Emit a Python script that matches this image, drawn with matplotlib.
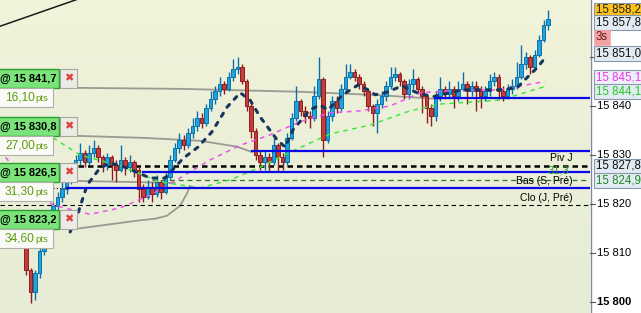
import numpy as np
import matplotlib
matplotlib.use("Agg")
import matplotlib.pyplot as plt
from matplotlib.patches import Rectangle
import matplotlib.transforms as mtransforms

plt.rcParams['font.family'] = ['Liberation Sans', 'DejaVu Sans']

W, H = 641, 313

# --- candle data (prices) ---
first_open = 15812.0
closes = [15806.5, 15802.0, 15806.0, 15810.5, 15814.0, 15817.0, 15819.5, 15821.5, 15823.0, 15825.0,
          15827.0, 15829.0, 15830.5, 15828.5, 15830.5, 15831.5, 15829.5, 15828.0, 15829.5, 15828.0,
          15827.0, 15829.0, 15827.5, 15828.5, 15827.0, 15823.0, 15821.5, 15823.5, 15822.0, 15824.5,
          15822.5, 15825.5, 15829.0, 15831.5, 15833.0, 15832.0, 15834.5, 15836.0, 15837.5, 15836.5,
          15839.5, 15841.5, 15843.0, 15844.5, 15843.5, 15846.0, 15847.5, 15848.0, 15845.0, 15840.0,
          15835.0, 15830.0, 15828.5, 15829.5, 15828.5, 15832.0, 15829.5, 15828.5, 15833.5, 15837.5,
          15841.0, 15839.0, 15838.0, 15837.5, 15842.0, 15845.5, 15833.0, 15838.0, 15841.0, 15839.5,
          15843.5, 15846.0, 15847.0, 15846.0, 15844.5, 15843.0, 15840.0, 15838.5, 15840.5, 15842.0,
          15844.0, 15846.0, 15846.5, 15845.0, 15842.5, 15844.5, 15845.5, 15843.5, 15842.0, 15839.5,
          15838.0, 15842.0, 15843.5, 15842.5, 15843.5, 15842.0, 15843.5, 15844.5, 15843.0, 15844.0,
          15843.0, 15842.0, 15843.0, 15845.0, 15846.0, 15843.0, 15842.0, 15843.5, 15844.0, 15846.0,
          15848.5, 15850.0, 15848.0, 15850.5, 15853.5, 15856.5, 15857.8]
highs = [15812.5, 15807.0, 15806.5, 15811.5, 15815.0, 15818.0, 15820.5, 15822.5, 15824.5, 15826.0,
         15828.0, 15830.0, 15832.5, 15831.0, 15832.0, 15833.0, 15832.0, 15830.0, 15830.5, 15830.0,
         15829.0, 15832.0, 15829.5, 15830.0, 15829.0, 15827.5, 15824.0, 15825.0, 15824.5, 15826.0,
         15825.0, 15826.5, 15830.0, 15832.5, 15834.5, 15834.0, 15835.5, 15837.5, 15839.0, 15838.5,
         15840.5, 15843.0, 15844.0, 15846.0, 15845.0, 15847.0, 15849.5, 15850.0, 15848.5, 15845.5,
         15840.5, 15835.5, 15831.0, 15831.0, 15830.5, 15833.5, 15832.5, 15830.5, 15834.5, 15838.5,
         15844.0, 15841.5, 15840.0, 15839.0, 15844.0, 15850.0, 15846.0, 15839.0, 15842.0, 15842.0,
         15844.5, 15848.5, 15848.5, 15847.5, 15846.5, 15845.0, 15843.5, 15840.5, 15841.5, 15843.0,
         15845.0, 15848.0, 15848.0, 15847.0, 15845.5, 15845.5, 15847.5, 15846.0, 15844.0, 15842.5,
         15840.5, 15843.0, 15846.0, 15844.0, 15845.0, 15844.0, 15845.0, 15847.0, 15845.0, 15845.0,
         15845.0, 15844.0, 15844.0, 15846.5, 15847.0, 15846.5, 15844.0, 15844.5, 15845.5, 15849.0,
         15852.5, 15851.0, 15850.5, 15851.5, 15854.5, 15857.5, 15859.5]
lows = [15805.5, 15799.8, 15800.5, 15805.0, 15809.5, 15813.0, 15816.0, 15818.5, 15820.5, 15822.0,
        15824.0, 15826.0, 15828.0, 15827.5, 15828.0, 15829.5, 15828.5, 15826.5, 15827.0, 15825.0,
        15824.5, 15826.5, 15826.0, 15826.5, 15825.5, 15820.5, 15820.5, 15821.0, 15820.5, 15821.5,
        15821.0, 15822.0, 15825.0, 15828.5, 15830.5, 15831.0, 15831.5, 15833.5, 15835.0, 15835.5,
        15836.0, 15839.0, 15840.5, 15842.0, 15842.5, 15843.0, 15845.0, 15846.5, 15844.5, 15839.0,
        15833.5, 15829.0, 15827.0, 15827.0, 15826.5, 15828.0, 15826.5, 15827.0, 15828.0, 15833.0,
        15837.0, 15838.0, 15836.5, 15835.5, 15837.0, 15841.5, 15829.5, 15832.5, 15837.0, 15838.5,
        15839.0, 15843.0, 15845.5, 15845.0, 15843.5, 15842.0, 15839.0, 15836.0, 15834.5, 15839.5,
        15841.0, 15843.5, 15845.0, 15844.0, 15841.5, 15841.5, 15843.5, 15842.5, 15838.5, 15836.5,
        15836.0, 15837.0, 15841.0, 15841.5, 15841.5, 15839.5, 15841.0, 15843.0, 15840.5, 15842.0,
        15839.0, 15839.5, 15841.0, 15842.0, 15844.0, 15841.5, 15841.0, 15841.5, 15842.5, 15843.5,
        15845.5, 15847.5, 15846.5, 15847.5, 15850.0, 15853.0, 15855.5]
opens = [first_open] + closes[:-1]

# --- indicator lines (x in candle index, y in price) ---
magenta_x = [-5.8, 0.9, 6.0, 14.2, 20.9, 27.6, 34.2, 40.9, 47.6, 54.2, 60.9, 67.6, 74.2, 80.9, 87.6, 94.2, 105.3, 115.3]
magenta_y = [15831.0, 15823.3, 15819.8, 15817.9, 15819.2, 15821.8, 15825.3, 15829.0, 15832.0, 15834.1,
             15836.8, 15838.6, 15839.0, 15840.0, 15842.7, 15843.1, 15843.3, 15845.0]
green_x = [6.0, 12.0, 20.9, 29.8, 38.7, 45.3, 52.0, 58.7, 67.6, 76.4, 85.3, 92.0, 105.3, 115.8]
green_y = [15833.5, 15830.0, 15827.8, 15824.5, 15823.3, 15824.9, 15827.5, 15830.6, 15834.3, 15836.1,
           15839.0, 15840.4, 15841.2, 15844.1]
stop_x = [9.8, 11.6, 13.6, 16.4, 18.7, 22.0, 27.6, 30.9, 34.9, 38.2, 41.3, 44.7, 47.6, 49.8, 52.0, 55.8,
          57.6, 59.3, 63.1, 65.3, 67.1, 70.4, 73.8, 76.0, 77.6, 79.8, 83.6, 86.9, 90.4, 97.1, 105.3,
          109.1, 110.9, 113.8, 115.3]
stop_y = [15814.3, 15818.3, 15823.9, 15827.3, 15828.4, 15827.5, 15825.3, 15825.3, 15829.3, 15831.6,
          15834.7, 15839.8, 15842.7, 15841.2, 15837.8, 15833.1, 15831.6, 15835.1, 15839.2, 15840.2,
          15839.2, 15842.3, 15844.3, 15843.3, 15842.3, 15842.7, 15844.1, 15842.7, 15841.9, 15843.3,
          15843.3, 15843.7, 15845.4, 15848.0, 15849.8]
trend_x = [-6.0, 14.0]
trend_y = [15856.2, 15862.6]
gray_lines = [
    ([11.6, 34.2, 60.9, 78.7, 92.0], [15843.7, 15843.5, 15842.9, 15842.2, 15841.4]),
    ([11.6, 26.0, 38.7, 46.9, 50.2], [15833.9, 15833.5, 15832.9, 15831.7, 15830.6]),
    ([11.6, 23.1, 33.0], [15824.7, 15824.5, 15824.3]),
    ([11.6, 24.7, 28.7, 31.3, 34.2, 35.8, 36.4], [15815.0, 15816.6, 15817.0, 15817.6, 15819.6, 15822.2, 15823.7]),
]

# order levels: price, start index
order_levels = [15841.7, 15830.8, 15826.5, 15823.2]
order_start = [90.9, 50.2, 26.0, 9.1]
order_pts = ["16,10", "27,00", "31,30", "34,60"]
piv_j = 15827.8
bas_s = 15824.9
clo_j = 15819.8

yticks = [15800, 15810, 15820, 15830, 15840, 15850]
ytick_labels = ["15 800", "15 810", "15 820", "15 830", "15 840", ""]

XMIN, XMAX = -5.78, 125.33
YMIN, YMAX = 15797.76, 15861.63

fig = plt.figure(figsize=(W / 100, H / 100), dpi=100)
fig.patch.set_facecolor("white")
ax = fig.add_axes([0, 0, 590 / W, 1])
ax.set_xlim(XMIN, XMAX)
ax.set_ylim(YMIN, YMAX)
ax.axis("off")

grad = np.linspace(0, 1, 100).reshape(-1, 1)
top = np.array([0.945, 0.953, 0.855])
bot = np.array([0.902, 0.925, 0.835])
img = top + (bot - top) * grad[..., None]
ax.imshow(img, extent=[0, 1, 0, 1], transform=ax.transAxes, aspect="auto", zorder=-10)

# trend line
ax.plot(trend_x, trend_y, color="#1a1a1a", lw=1.1, zorder=2)

# gray curves
for gx, gy in gray_lines:
    ax.plot(gx, gy, color="#9a9a92", lw=1.3, zorder=2)

# levels
ax.plot([XMIN, XMAX], [clo_j, clo_j], color="black", lw=0.8, dashes=(4, 3), zorder=3)
ax.plot([28, XMAX], [bas_s, bas_s], color="#2a7a2a", lw=0.9, dashes=(4, 3), zorder=3)
ax.plot([11.6, XMAX], [piv_j, piv_j], color="black", lw=1.8, dashes=(2.2, 1.6), zorder=3)
ax.plot([6.0, 9.1], [15823.2, 15823.2], color="black", lw=0.8, dashes=(1, 2), zorder=3)

# candles
x = np.arange(len(closes))
for i in x:
    o, c, hi, lo = opens[i], closes[i], highs[i], lows[i]
    up = c >= o
    fill = "#1fa3db" if up else "#c43c3c"
    edge = "#0a70ad" if up else "#8e1c1c"
    ax.plot([i, i], [lo, hi], color=edge, lw=1.0, zorder=4, solid_capstyle="butt")
    ax.bar(i, max(abs(c - o), 0.3), bottom=min(o, c), width=0.85,
           color=fill, edgecolor=edge, linewidth=0.7, zorder=5)

# moving averages
ax.plot(magenta_x, magenta_y, color="#f050f0", lw=1.1, dashes=(3, 3), zorder=6)
ax.plot(green_x, green_y, color="#3ee83e", lw=1.1, dashes=(3, 3), zorder=6)
ax.plot(stop_x, stop_y, color="#16365e", lw=2.2, dashes=(1.2, 2.3), dash_capstyle="round", zorder=7)

# blue order lines
for lvl, st in zip(order_levels, order_start):
    ax.plot([st, XMAX], [lvl, lvl], color="#0a0ae6", lw=1.6, zorder=8)

# level text
ax.text(121.5, piv_j + 0.6, "Piv J", fontsize=7.5, ha="right", va="bottom", zorder=9)
ax.text(120.8, bas_s + 0.9, "31,3", fontsize=8, ha="right", va="bottom", color="#2a9a2a", zorder=9)
ax.text(121.5, bas_s - 0.3, "Bas (S, Pré)", fontsize=7.5, ha="right", va="center", zorder=9)
ax.text(121.5, clo_j + 0.5, "Clo (J, Pré)", fontsize=7.5, ha="right", va="bottom", zorder=9)


def fx(px):
    return px / W


def fy(py):
    return 1 - py / H


def box(x0, y0, x1, y1, fc, ec, lw=0.8, z=10):
    r = Rectangle((fx(x0), fy(y1)), (x1 - x0) / W, (y1 - y0) / H, transform=fig.transFigure,
                  facecolor=fc, edgecolor=ec, linewidth=lw, zorder=z)
    fig.add_artist(r)


# left order boxes
order_box_y = [69, 117, 163, 210]
for (lvl, pts, y0) in zip(order_levels, order_pts, order_box_y):
    box(-2, y0, 59, y0 + 19, "#7ae37a", "#2aa02a", lw=1.0)
    txt = "@ " + f"{lvl:,.1f}".replace(",", " ").replace(".", ",")
    fig.text(fx(0.5), fy(y0 + 9.5), txt, fontsize=7.9, fontweight="bold", ha="left", va="center", zorder=11)
    box(60, y0, 77, y0 + 19, "#ebebe6", "#a8a8a0")
    fig.text(fx(68.5), fy(y0 + 9.5), "\u2716", fontsize=8, color="#e03c3c", ha="center", va="center",
             family=["DejaVu Sans"], zorder=11)
    box(-2, y0 + 19, 53, y0 + 38, "#fafaf6", "#b0b0a8")
    fig.text(fx(5), fy(y0 + 28.5), pts, fontsize=8.6, color="#5c9a10", ha="left", va="center", zorder=11)
    fig.text(fx(35.5), fy(y0 + 29.5), "pts", fontsize=6.8, color="#5c9a10", ha="left", va="center", zorder=11)

# right price panel
fig.add_artist(plt.Line2D([fx(590.5), fx(590.5)], [0, 1], transform=fig.transFigure, color="#7c8c98", lw=1.0))
blend = mtransforms.blended_transform_factory(fig.transFigure, ax.transData)
for t, lab in zip(yticks, ytick_labels):
    fig.add_artist(plt.Line2D([fx(590), fx(595)], [t, t], transform=blend, color="#505860", lw=0.8, zorder=3))
    if lab:
        fig.text(fx(597), t, lab, transform=blend, fontsize=8, ha="left", va="center",
                 fontweight="bold" if t == 15800 else "normal", zorder=3)

# price boxes on the right: label, centre y px, fill, text colour
price_boxes = [
    ("15 858,2", 10, "#ffc21a", "#222222"),
    ("15 857,8", 22.5, "#e2eaf3", "#111111"),
    ("15 851,0", 53.5, "#e2eaf3", "#111111"),
    ("15 845,1", 77.5, "#eef2f8", "#ee33ee"),
    ("15 844,1", 91.5, "#e2eaf3", "#22cc22"),
    ("15 827,8", 166, "#e2eaf3", "#111111"),
    ("15 824,9", 180.5, "#e2eaf3", "#1e8a1e"),
]
for lab, cy, fc, tc in price_boxes:
    box(594, cy - 7.5, 642, cy + 7.5, fc, "#8898aa", lw=0.8, z=12)
    fig.text(fx(596), fy(cy), lab, fontsize=8.3, color=tc, ha="left", va="center", zorder=13)
box(594, 30.5, 610, 44.5, "#f4a2a2", "#f4a2a2", lw=0.5, z=12)
fig.text(fx(596), fy(37.5), "3s", fontsize=8.3, color="#5a1a1a", ha="left", va="center", zorder=13)

fig.savefig("out.png", dpi=100)
